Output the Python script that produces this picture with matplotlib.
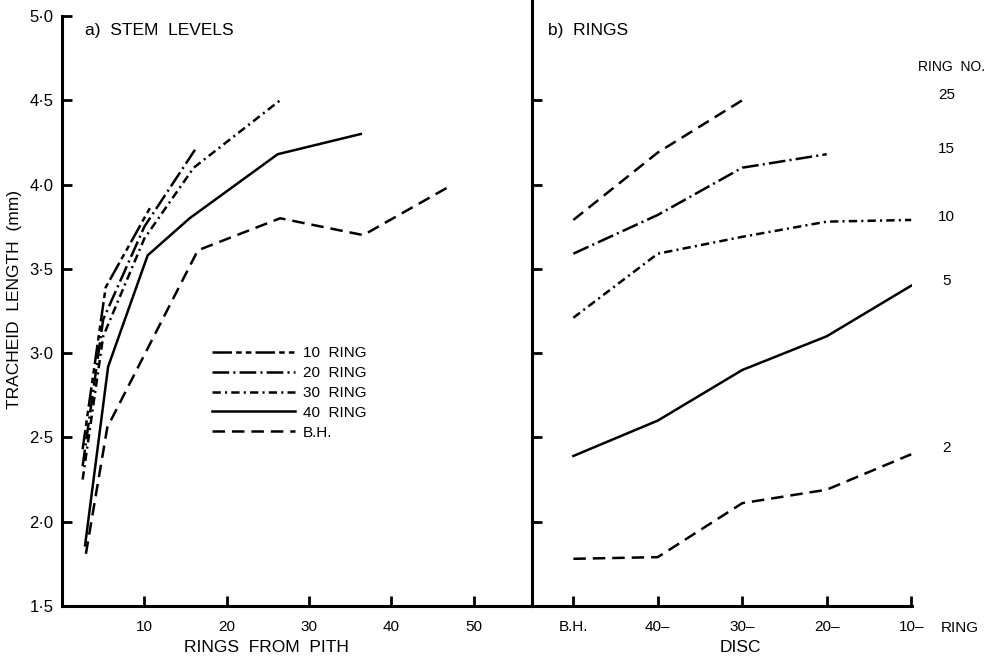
import matplotlib
matplotlib.use("Agg")
import matplotlib.pyplot as plt
from matplotlib.ticker import FuncFormatter

plt.rcParams['font.family'] = ['Liberation Sans', 'DejaVu Sans']
plt.rcParams['lines.scale_dashes'] = False

# a) stem levels: tracheid length vs rings from pith
x_10 = [2.5, 5.3, 10.9]
y_10 = [2.43, 3.39, 3.88]
x_20 = [2.5, 5.0, 10.0, 16.2]
y_20 = [2.33, 3.20, 3.75, 4.21]
x_30 = [2.5, 5.0, 10.0, 16.0, 26.5]
y_30 = [2.25, 3.10, 3.68, 4.10, 4.50]
x_40 = [2.8, 5.6, 10.4, 15.5, 26.2, 36.3]
y_40 = [1.86, 2.92, 3.58, 3.80, 4.18, 4.30]
x_bh = [2.9, 5.5, 16.5, 26.5, 36.6, 47.1]
y_bh = [1.81, 2.56, 3.61, 3.80, 3.70, 3.99]

# b) rings: tracheid length vs disc
discs = ['B.H.', '40\u2013', '30\u2013', '20\u2013', '10\u2013']
ring25 = [3.79, 4.19, 4.50]
ring15 = [3.59, 3.82, 4.10, 4.18]
ring10 = [3.21, 3.59, 3.69, 3.78, 3.79]
ring5 = [2.39, 2.60, 2.90, 3.10, 3.40]
ring2 = [1.78, 1.79, 2.11, 2.19, 2.40]

ls_10 = (0, (14, 3, 4, 3, 4, 3))
ls_20 = (0, (12, 3, 1.5, 3))
ls_30 = (0, (6, 3, 1.5, 3))
ls_bh = (0, (9, 5))
lw = 1.8

fig = plt.figure(figsize=(9.91, 6.6), dpi=100)
ax1 = fig.add_axes([0.0626, 0.0818, 0.4743, 0.894])
ax2 = fig.add_axes([0.5368, 0.0818, 0.3835, 0.894])

ax1.plot(x_10, y_10, color='black', lw=lw, linestyle=ls_10, label='10  RING')
ax1.plot(x_20, y_20, color='black', lw=lw, linestyle=ls_20, label='20  RING')
ax1.plot(x_30, y_30, color='black', lw=lw, linestyle=ls_30, label='30  RING')
ax1.plot(x_40, y_40, color='black', lw=lw, linestyle='-', label='40  RING')
ax1.plot(x_bh, y_bh, color='black', lw=lw, linestyle=ls_bh, label='B.H.')

xpos = list(range(len(discs)))
ax2.plot(xpos[:len(ring25)], ring25, color='black', lw=lw, linestyle=ls_bh)
ax2.plot(xpos[:len(ring15)], ring15, color='black', lw=lw, linestyle=ls_20)
ax2.plot(xpos, ring10, color='black', lw=lw, linestyle=ls_30)
ax2.plot(xpos, ring5, color='black', lw=lw, linestyle='-')
ax2.plot(xpos, ring2, color='black', lw=lw, linestyle=ls_bh)

dot_fmt = FuncFormatter(lambda v, p: ('%.1f' % v).replace('.', '\u00b7'))

for ax in (ax1, ax2):
    ax.set_ylim(1.5, 5.0)
    ax.spines['top'].set_visible(False)
    ax.spines['right'].set_visible(False)
    ax.spines['left'].set_linewidth(2.2)
    ax.spines['bottom'].set_linewidth(2.2)
    ax.tick_params(direction='in', length=7, width=2, labelsize=11, pad=10)

ax1.set_xlim(0, 57.1)
ax1.set_xticks([10, 20, 30, 40, 50])
ax1.set_yticks([1.5, 2.0, 2.5, 3.0, 3.5, 4.0, 4.5, 5.0])
ax1.yaxis.set_major_formatter(dot_fmt)
ax1.tick_params(axis='y', pad=6, labelsize=12)
ax1.set_xlabel('RINGS  FROM  PITH', fontsize=12.5)
ax1.xaxis.set_label_coords(0.434, -0.057)
ax1.set_ylabel('TRACHEID  LENGTH  (mm)', fontsize=12.5)
ax1.yaxis.set_label_coords(-0.085, 0.52)
ax1.text(0.048, 0.975, 'a)  STEM  LEVELS', transform=ax1.transAxes,
         fontsize=12.5, va='center', ha='left')
ax1.legend(loc='upper left', bbox_to_anchor=(0.32, 0.44), frameon=False,
           fontsize=11, handlelength=5.4, handletextpad=0.5, labelspacing=0.38,
           borderpad=0, borderaxespad=0)

ax2.set_xlim(-0.49, 4.01)
ax2.set_xticks(xpos)
ax2.set_xticklabels(discs)
ax2.set_yticks([2.0, 2.5, 3.0, 3.5, 4.0, 4.5])
ax2.set_yticklabels([])
ax2.spines['left'].set_bounds(1.5, 5.1)
ax2.set_xlabel('DISC', fontsize=12.5)
ax2.xaxis.set_label_coords(0.549, -0.057)
ax2.annotate('RING', xy=(4, 1.5), xycoords='data', xytext=(21, -16),
             textcoords='offset points', fontsize=11, ha='left', va='center',
             annotation_clip=False)
ax2.text(0.042, 0.975, 'b)  RINGS', transform=ax2.transAxes,
         fontsize=12.5, va='center', ha='left')

ax2.text(4.48, 4.70, 'RING  NO.', fontsize=10, ha='center', va='center', clip_on=False)
ring_nos = ['25', '15', '10', '5', '2']
ring_label_y = [4.53, 4.21, 3.81, 3.43, 2.44]
for lab, yy in zip(ring_nos, ring_label_y):
    ax2.text(4.42, yy, lab, fontsize=11, ha='center', va='center', clip_on=False)

fig.savefig('out.png', dpi=100)
